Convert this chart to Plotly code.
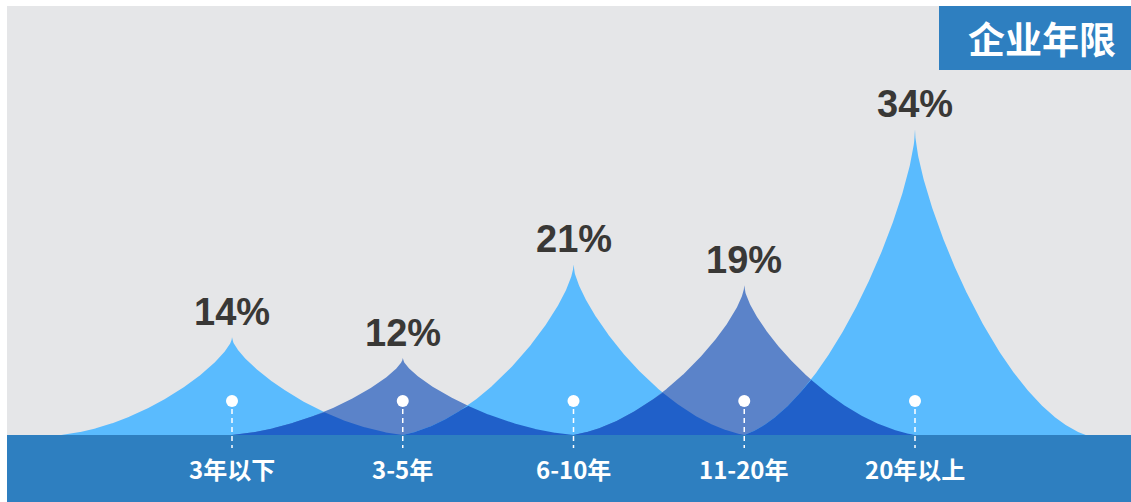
import numpy as np
import plotly.graph_objects as go

# ---------------- data ----------------
categories = ["3年以下", "3-5年", "6-10年", "11-20年", "20年以上"]
values = [14, 12, 21, 19, 34]
title_text = "企业年限"

# ---------------- style ----------------
W, H = 1131, 502
LIGHT = "#5ABBFE"
DARK = "#5B83C9"
OVERLAP = "#2060C9"
BAND = "#2E7FC0"
GRAY = "#E5E6E8"
TEXT_DARK = "#393836"

px_per_cat = 170.75
first_px = 232
base_px = 435
px_per_unit = 10.4
base_val = 4.6  # value sitting on the band top

# x axis range (category index units)
x_range = [-first_px / px_per_cat, (W - first_px) / px_per_cat]
y_range = [base_val - (H - base_px) / px_per_unit, base_val + base_px / px_per_unit]

# spike shape profile (cubic bezier, peak -> base), normalised
t = np.linspace(0, 1, 400)
P0 = np.array([0.0, 1.0])
P1 = np.array([0.0, 0.8])
P2 = np.array([0.48, 0.1])
P3 = np.array([1.0, 0.0])
bez = ((1 - t) ** 3)[:, None] * P0 + (3 * (1 - t) ** 2 * t)[:, None] * P1 + \
      (3 * (1 - t) * t ** 2)[:, None] * P2 + (t ** 3)[:, None] * P3
prof_u, prof_h = bez[:, 0], bez[:, 1]


def profile(u):
    return np.interp(np.abs(u), prof_u, prof_h, right=0.0)


fig = go.Figure()

# main spikes
xs = np.linspace(-1, 1, 801)
for i, v in enumerate(values):
    hgt = v - base_val
    x = i + xs
    y = base_val + hgt * profile(xs)
    fig.add_trace(go.Scatter(
        x=np.concatenate([x, [i + 1, i - 1]]),
        y=np.concatenate([y, [base_val, base_val]]),
        fill="toself", mode="lines", line=dict(width=0),
        fillcolor=LIGHT if i % 2 == 0 else DARK,
        hoverinfo="skip", showlegend=False))

# overlaps between neighbours
for i in range(len(values) - 1):
    xg = np.linspace(0, 1, 401)
    ya = (values[i] - base_val) * profile(xg)
    yb = (values[i + 1] - base_val) * profile(1 - xg)
    y = base_val + np.minimum(ya, yb)
    x = i + xg
    fig.add_trace(go.Scatter(
        x=np.concatenate([x, [i + 1, i]]),
        y=np.concatenate([y, [base_val, base_val]]),
        fill="toself", mode="lines", line=dict(width=0),
        fillcolor=OVERLAP, hoverinfo="skip", showlegend=False))

# dots (on pixel-space axis y2)
idx = list(range(len(categories)))
fig.add_trace(go.Scatter(
    x=idx, y=[401] * len(idx), yaxis="y2", mode="markers",
    marker=dict(size=12, color="white", line=dict(width=0)),
    hoverinfo="skip", showlegend=False))

shapes = [
    dict(type="rect", xref="paper", yref="y2", x0=7 / W, x1=1, y0=6, y1=base_px,
         fillcolor=GRAY, line=dict(width=0), layer="below"),
    dict(type="rect", xref="paper", yref="y2", x0=7 / W, x1=1, y0=base_px, y1=H,
         fillcolor=BAND, line=dict(width=0), layer="below"),
    dict(type="rect", xref="paper", yref="y2", x0=939 / W, x1=1, y0=6, y1=70,
         fillcolor=BAND, line=dict(width=0), layer="above"),
]
for i in idx:
    shapes.append(dict(type="line", xref="x", yref="y2", x0=i, x1=i, y0=409, y1=448,
                       line=dict(color="white", width=1.5, dash="5px,4px"), layer="above"))

annotations = []
for i, (c, v) in enumerate(zip(categories, values)):
    annotations.append(dict(x=i, y=v, xref="x", yref="y", text=f"{v}%",
                            showarrow=False, yanchor="bottom", yshift=2,
                            font=dict(family="Liberation Sans, Arial", size=38,
                                      color=TEXT_DARK, weight="bold")))
    annotations.append(dict(x=i, y=468, xref="x", yref="y2", text=c,
                            showarrow=False, yanchor="middle",
                            font=dict(family="Noto Sans CJK SC", size=24,
                                      color="white", weight="bold")))
annotations.append(dict(x=1042 / W, y=38, xref="paper", yref="y2", text=title_text,
                        showarrow=False, xanchor="center", yanchor="middle",
                        font=dict(family="Noto Sans CJK SC", size=37,
                                  color="white", weight="bold")))

fig.update_layout(
    width=W, height=H,
    margin=dict(l=0, r=0, t=0, b=0),
    paper_bgcolor="white", plot_bgcolor="rgba(0,0,0,0)",
    xaxis=dict(range=x_range, visible=False, fixedrange=True),
    yaxis=dict(range=y_range, visible=False, fixedrange=True),
    yaxis2=dict(range=[H, 0], visible=False, overlaying="y", fixedrange=True),
    shapes=shapes, annotations=annotations, showlegend=False,
)

fig.write_html("out.html")
